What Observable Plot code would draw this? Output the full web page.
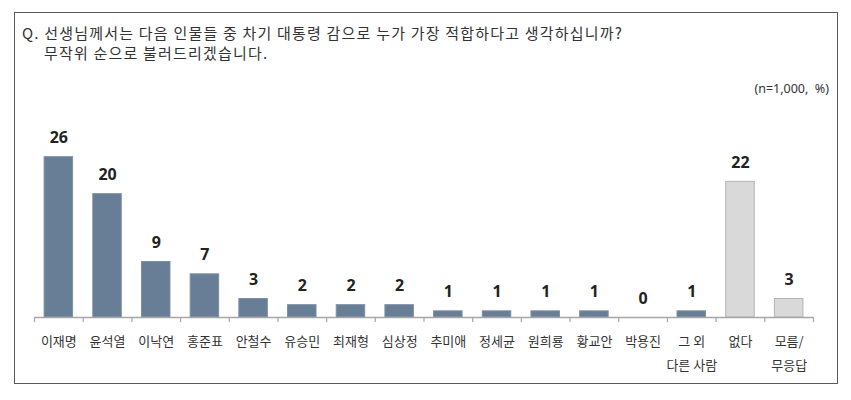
<!DOCTYPE html>
<html>
<head>
<meta charset="utf-8">
<script src="https://cdn.jsdelivr.net/npm/d3@7"></script>
<script src="https://cdn.jsdelivr.net/npm/@observablehq/plot@0.6"></script>
<style>
  html, body { margin: 0; padding: 0; background: #fff; }
  body { width: 851px; height: 400px; position: relative; overflow: hidden;
         font-family: "Noto Sans CJK KR", "Noto Sans", sans-serif; }
  #frame { position: absolute; left: 14px; top: 12px; width: 822px; height: 370px;
           border: 1.5px solid #5a5a5a; }
  #title { position: absolute; left: 22px; top: 23px; font-size: 15px; line-height: 20px; color: #333;
           letter-spacing: 1.2px; white-space: nowrap; }
  #title .l2 { padding-left: 22px; }
  #note { position: absolute; right: 22px; top: 81px; font-size: 12.5px; line-height: 16px; color: #333;
          font-family: "Noto Sans", sans-serif; }
  #chart { position: absolute; left: 0; top: 0; }
</style>
</head>
<body>
<div id="frame"></div>
<div id="title">Q. 선생님께서는 다음 인물들 중 차기 대통령 감으로 누가 가장 적합하다고 생각하십니까?<br><span class="l2">무작위 순으로 불러드리겠습니다.</span></div>
<div id="note">(n=1,000,&nbsp; %)</div>
<div id="chart"></div>
<script>
const categories = ["이재명","윤석열","이낙연","홍준표","안철수","유승민","최재형","심상정","추미애","정세균","원희룡","황교안","박용진","그 외\n다른 사람","없다","모름/\n무응답"];
const values = [26,20,9,7,3,2,2,2,1,1,1,1,0,1,22,3];
const groups = ["인물","인물","인물","인물","인물","인물","인물","인물","인물","인물","인물","인물","인물","인물","없음","없음"];

const data = categories.map((c, i) => ({name: c, value: values[i], group: groups[i]}));

const W = 851, H = 400;
const mL = 34, mR = 38, mB = 83, mT = 132;
const step = (W - mL - mR) / categories.length;
const inset = (step - 28.5) / 2;

const fillOf = g => g === "인물" ? "#687e96" : "#d9d9d9";
const strokeOf = g => g === "인물" ? "#7d90a5" : "#b3b3b3";

const chart = Plot.plot({
  width: W,
  height: H,
  marginLeft: mL,
  marginRight: mR,
  marginTop: mT,
  marginBottom: mB,
  style: {fontFamily: "'Noto Sans CJK KR', 'Noto Sans', sans-serif", background: "transparent", overflow: "visible"},
  x: {type: "band", domain: categories, padding: 0, round: false, axis: null},
  y: {domain: [0, 30], axis: null},
  marks: [
    Plot.barY(data, {x: "name", y: "value", fill: d => fillOf(d.group), stroke: d => strokeOf(d.group),
      strokeWidth: 1, insetLeft: inset, insetRight: inset}),
    Plot.ruleY([0], {stroke: "#a6a6a6", strokeWidth: 1.5}),
    Plot.ruleX(categories, {x: d => d, y1: 0, y2: 0, insetBottom: -5, dx: -step / 2, stroke: "#a6a6a6", strokeWidth: 1.2}),
    Plot.ruleX(categories.slice(-1), {x: d => d, y1: 0, y2: 0, insetBottom: -5, dx: step / 2, stroke: "#a6a6a6", strokeWidth: 1.2}),
    Plot.text(data, {x: "name", y: "value", text: d => String(d.value), lineAnchor: "bottom", dy: -14,
      fontSize: 16, fontWeight: "bold", fill: "#222", fontFamily: "'Noto Sans', sans-serif"}),
    Plot.text(data, {x: "name", y: 0, text: "name", lineAnchor: "top", lineHeight: 1.85, dy: 11,
      fontSize: 13, fill: "#333"})
  ]
});
document.getElementById("chart").appendChild(chart);
</script>
</body>
</html>
